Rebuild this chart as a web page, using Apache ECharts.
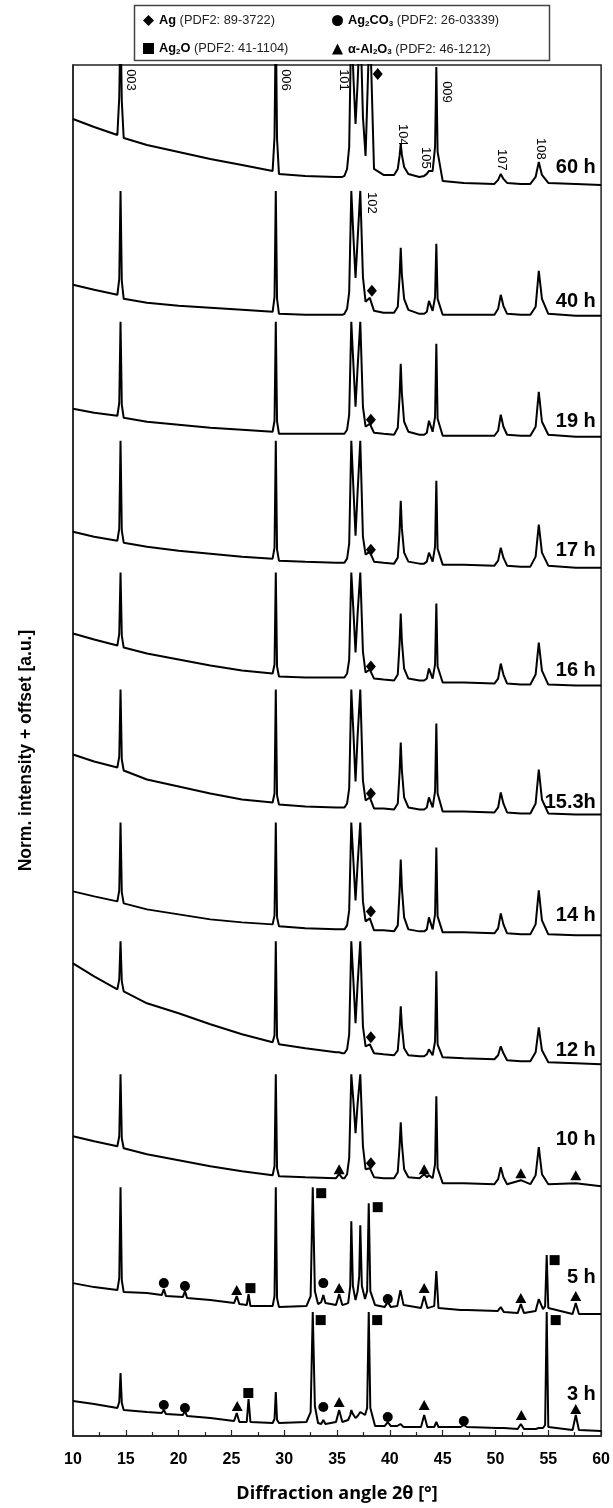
<!DOCTYPE html>
<html lang="en">
<head>
<meta charset="UTF-8">
<title>XRD</title>
<script src="https://cdn.jsdelivr.net/npm/echarts@6/dist/echarts.min.js"></script>
<style>html,body{margin:0;padding:0;background:#fff;}</style>
</head>
<body>
<div id="main" style="width:613px;height:1508px;"></div>
<script>
// 2theta grid for the 10 h ... 60 h patterns
var angleA = [10,12,14.2,14.38,14.5,14.62,14.8,17,20,23,26,28.9,29.08,29.2,29.32,29.5,32,34.9,35.2,35.5,35.7,35.95,36.15,36.35,36.55,36.75,36.95,37.2,37.45,37.7,38.1,38.5,39.4,40.4,40.75,40.92,41.03,41.14,41.35,41.75,42.8,43.25,43.5,43.7,44.05,44.28,44.4,44.52,45.0,47,49.9,50.25,50.5,50.75,51.1,52.4,53.3,53.8,54.1,54.4,55.0,57.6,60];

// intensity + offset (a.u.)
var int60 = [1318,1310,1302,1340,1420,1336,1299,1292,1285,1278,1272,1266,1300,1420,1298,1263,1261,1260,1260,1260,1261,1268,1290,1420,1360,1313,1355,1420,1320,1281,1420,1268,1262,1262,1268,1281,1293,1282,1270,1263,1260,1261,1263,1266,1266,1290,1370,1285,1256,1254,1253,1257,1263,1258,1254,1253,1253,1260,1275,1262,1254,1253,1252];
var int40 = [1152,1147,1142,1158,1246,1156,1138,1134,1131,1129,1127,1125,1140,1246,1138,1123,1122,1122,1122,1122,1123,1128,1145,1246,1200,1159,1198,1246,1160,1135,1139,1126,1124,1124,1130,1160,1189,1162,1138,1127,1123,1123,1125,1136,1126,1140,1193,1138,1122,1122,1122,1128,1142,1131,1123,1122,1122,1130,1166,1138,1123,1121,1121];
var int19 = [1028,1024,1021,1034,1115,1032,1019,1015,1012,1009,1007,1005,1016,1115,1015,1003,1003,1003,1003,1003,1003,1007,1022,1115,1072,1030,1070,1115,1030,1010,1013,1004,1003,1002,1009,1040,1073,1043,1015,1005,1002,1002,1004,1016,1005,1020,1093,1018,1001,1001,1001,1006,1022,1010,1002,1001,1001,1010,1045,1015,1002,1000,1000];
var int17 = [905,900,896,908,996,906,894,890,886,883,880,878,889,996,887,876,875,874,874,874,874,878,893,996,948,901,946,996,900,882,885,875,874,873,879,906,936,908,884,875,873,873,875,884,875,890,956,888,872,872,871,876,889,879,871,870,870,880,912,884,871,869,869];
var int16 = [803,797,791,803,864,801,789,783,777,771,766,763,772,864,770,760,759,759,759,759,759,763,777,864,826,784,824,864,785,764,767,758,757,756,762,793,823,795,768,758,756,756,758,768,758,772,833,770,754,754,753,758,773,762,753,752,752,762,794,766,752,751,751];
var int153 = [682,675,669,680,747,677,666,657,650,643,637,634,643,747,641,632,630,629,629,629,629,633,648,747,703,655,701,747,656,636,639,628,628,627,633,664,694,666,639,629,627,627,629,639,629,645,713,643,625,625,624,629,644,633,624,623,623,633,667,637,623,622,622];
var int14 = [545,540,535,546,614,544,533,527,522,517,514,512,521,614,519,510,508,507,507,507,507,511,526,614,575,536,573,614,535,515,518,506,506,505,511,545,577,548,519,507,505,505,507,519,507,522,589,520,504,504,503,508,523,512,503,502,502,512,546,516,502,501,501];
var int12 = [473,460,447,457,495,455,445,433,423,412,402,394,401,495,399,392,388,384,384,383,383,387,402,495,455,413,453,495,410,390,392,383,382,381,386,408,430,410,388,381,380,380,382,387,381,395,465,392,379,378,377,381,390,383,376,375,375,384,409,386,374,373,372];
var int10 = [300,295,290,300,362,298,288,282,276,270,265,261,270,362,268,260,259,258,262,258,258,262,278,362,335,303,333,362,290,267,268,259,258,258,264,290,314,292,267,259,258,262,259,261,258,272,340,268,253,253,252,257,269,259,252,256,252,261,289,262,252,253,250];

// 2theta grid for the 3 h and 5 h patterns
var angleB = [10,12,14.2,14.38,14.5,14.62,14.8,17,18.4,18.6,18.8,20.4,20.6,20.8,23,25.25,25.5,25.75,26.45,26.62,26.8,28.9,29.08,29.2,29.32,29.5,32.1,32.5,32.7,32.9,33.2,33.5,33.7,33.9,34.9,35.2,35.5,36.05,36.25,36.35,36.5,36.75,36.95,37.1,37.2,37.35,37.65,37.85,38.0,38.15,38.6,39.5,39.8,40.1,40.7,41.0,41.3,42.95,43.25,43.55,44.2,44.4,44.6,46.7,47.0,47.3,50.2,50.5,50.8,52.1,52.4,52.7,53.8,54.1,54.5,54.7,54.85,55.0,57.3,57.6,57.9,60];
var int5 = [153,149,146,158,249,156,144,143,141,147,140,139,145,138,136,133,140,132,131,142,130,130,140,249,138,129,130,140,249,145,132,134,141,133,131,142,131,133,150,215,150,136,145,160,211,150,137,145,233,145,131,129,134,129,130,146,131,128,140,128,130,165,128,126,126,126,125,129,124,123,132,123,125,137,127,130,181,128,122,133,122,122];
var int3 = [35,32,28,34,63,33,26,24,23,26,22,21,25,20,18,15,23,14,14,37,14,13,17,44,16,13,14,24,124,30,13,12,16,12,14,26,14,16,21,26,22,18,20,22,24,22,21,28,124,28,10,10,14,10,10,12,9,9,21,9,9,14,9,9,11,9,8,8,8,7,12,7,7,8,8,11,124,9,6,21,6,5];

var traceNames = ['60 h', '40 h', '19 h', '17 h', '16 h', '15.3h', '14 h', '12 h', '10 h', '5 h', '3 h'];
var traceLabelY = [1269, 1135, 1015, 886, 766, 634, 521, 386, 297, 159, 42];

// phase markers [2theta, intensity + offset]
var agPts = [[38.85,1363],[38.3,1146],[38.2,1017],[38.2,887],[38.2,770],[38.2,643],[38.2,525],[38.2,399],[38.2,273]];
var ag2co3Pts = [[18.6,153],[20.6,150],[33.7,153],[39.8,137],[18.6,31],[20.6,28],[33.7,29],[39.8,19],[47.0,15]];
var ag2oPts = [[26.8,148],[33.5,243],[38.85,229],[55.6,176],[26.6,43],[33.45,116],[38.8,116],[55.7,116]];
var al2o3Pts = [[35.2,267],[43.25,267],[52.4,263],[57.6,261],[25.5,146],[35.2,148],[43.25,148],[52.4,138],[57.6,140],[25.55,30],[35.2,34],[43.25,31],[52.45,21],[57.6,27]];

// reflection indices of the 60 h / 40 h patterns
var hklText = ['003', '006', '101', '009', '104', '105', '107', '108', '102'];
var hklPos = [[15.47,1357],[30.1,1357],[35.6,1357],[45.4,1345],[41.2,1302],[43.4,1279],[50.6,1277],[54.25,1288],[38.3,1234]];

var FONT = 'Liberation Sans, Arial, sans-serif';

var chart = echarts.init(document.getElementById('main'));

function zip(xs, ys) {
    return xs.map(function (x, i) { return [x, ys[i]]; });
}

var traces = [
    [angleA, int60], [angleA, int40], [angleA, int19], [angleA, int17], [angleA, int16],
    [angleA, int153], [angleA, int14], [angleA, int12], [angleA, int10], [angleB, int5], [angleB, int3]
];

var series = traces.map(function (t) {
    return {
        type: 'line',
        data: zip(t[0], t[1]),
        symbol: 'none',
        silent: true,
        clip: true,
        lineStyle: {color: '#000', width: 2},
        z: 2
    };
});

function marks(name, symbol, size, pts) {
    return {
        name: name, type: 'scatter', symbol: symbol, symbolSize: size,
        data: pts, silent: true, itemStyle: {color: '#000', opacity: 1}, z: 5
    };
}
series.push(marks('Ag', 'diamond', [10, 12], agPts));
series.push(marks('Ag2CO3', 'circle', 10, ag2co3Pts));
series.push(marks('Ag2O', 'rect', 10, ag2oPts));
series.push(marks('Al2O3', 'triangle', [11, 10], al2o3Pts));

series.push({
    type: 'scatter', symbolSize: 0, silent: true, z: 6,
    itemStyle: {opacity: 1},
    data: hklPos.map(function (p, i) { return {value: p, label: {formatter: hklText[i]}}; }),
    label: {show: true, position: 'inside', rotate: -90, fontSize: 13, color: '#000', opacity: 1, fontFamily: FONT}
});

series.push({
    type: 'scatter', symbolSize: 0, silent: true, z: 6,
    itemStyle: {opacity: 1},
    data: traceNames.map(function (n, i) { return {value: [59.5, traceLabelY[i]], label: {formatter: n}}; }),
    label: {show: true, position: 'left', distance: 0, fontSize: 20, fontWeight: 'bold', color: '#000', opacity: 1, fontFamily: FONT}
});

var legendText = {
    'Ag': '{b|Ag}{n| (PDF2: 89-3722)}',
    'Ag2CO3': '{b|Ag}{s|2}{b|CO}{s|3}{n| (PDF2: 26-03339)}',
    'Ag2O': '{b|Ag}{s|2}{b|O}{n| (PDF2: 41-1104)}',
    'Al2O3': '{b|α-Al}{s|2}{b|O}{s|3}{n| (PDF2: 46-1212)}'
};
var legendRich = {
    b: {fontFamily: FONT, fontWeight: 'bold', fontSize: 12.8, color: '#000', lineHeight: 14},
    n: {fontFamily: FONT, fontSize: 12.8, color: '#222', lineHeight: 14},
    s: {fontFamily: FONT, fontWeight: 'bold', fontSize: 8, color: '#000', lineHeight: 8, verticalAlign: 'bottom'}
};
function legendBlock(items, left) {
    return {
        data: items, orient: 'vertical', left: left, top: 9, itemGap: 15,
        itemWidth: 11, itemHeight: 11, selectedMode: false,
        formatter: function (name) { return legendText[name]; },
        textStyle: {rich: legendRich}
    };
}

chart.setOption({
    animation: false,
    backgroundColor: '#fff',
    grid: {left: 73, right: 10, top: 65, bottom: 71, show: true, borderColor: '#222', borderWidth: 1.5},
    legend: [
        legendBlock([{name: 'Ag', icon: 'diamond'}, {name: 'Ag2O', icon: 'rect'}], 138),
        legendBlock([{name: 'Ag2CO3', icon: 'circle'}, {name: 'Al2O3', icon: 'triangle'}], 327)
    ],
    graphic: [{
        type: 'rect', left: 132, top: 3,
        shape: {width: 415, height: 55},
        style: {fill: 'none', stroke: '#444', lineWidth: 1.5}
    }],
    xAxis: {
        type: 'value', min: 10, max: 60, interval: 5,
        axisLine: {lineStyle: {color: '#222', width: 1.5}},
        axisTick: {inside: true, length: 6, lineStyle: {color: '#222', width: 1.2}},
        minorTick: {show: true, splitNumber: 2, length: 4, lineStyle: {color: '#222', width: 1.2}},
        splitLine: {show: false},
        axisLabel: {fontSize: 16, fontWeight: 'bold', color: '#000', margin: 16, fontFamily: FONT},
        name: 'Diffraction angle 2θ [°]', nameLocation: 'middle', nameGap: 49,
        nameTextStyle: {fontSize: 18, fontWeight: 'bold', color: '#000', fontFamily: 'Open Sans'}
    },
    yAxis: {
        type: 'value', min: 0, max: 1372,
        axisLine: {show: true, lineStyle: {color: '#222', width: 1.5}},
        axisTick: {show: false}, axisLabel: {show: false}, splitLine: {show: false},
        name: 'Norm. intensity + offset [a.u.]', nameLocation: 'middle', nameGap: 38,
        nameTextStyle: {fontSize: 17.5, fontWeight: 'bold', color: '#000', fontFamily: FONT}
    },
    series: series
});
</script>
</body>
</html>
